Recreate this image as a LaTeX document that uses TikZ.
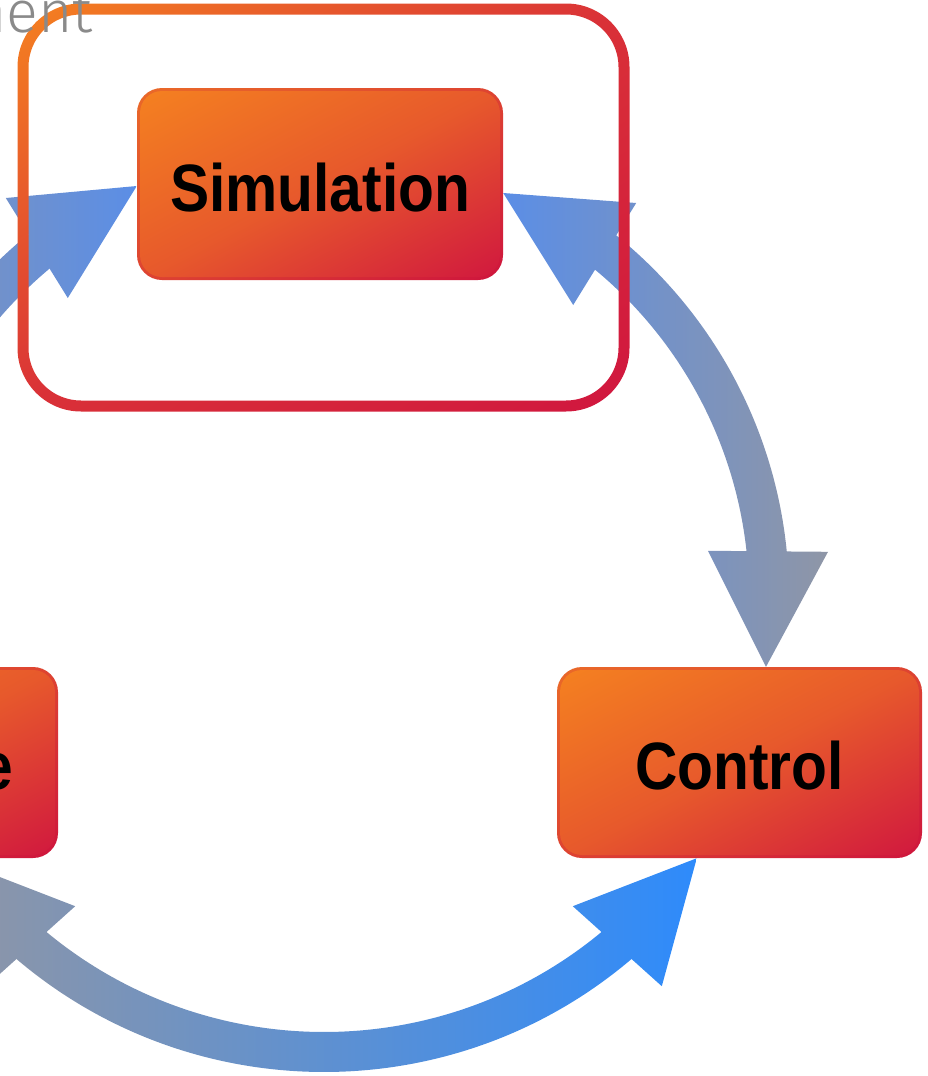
\documentclass[tikz,border=0pt]{standalone}
\usepackage{fontspec}
\setmainfont{Liberation Sans}
\newfontfamily\stagefont[FakeStretch=0.876]{Liberation Sans}
\newfontfamily\notefont{Fira Sans Light}
\usetikzlibrary{calc}

\definecolor{flameA}{HTML}{F58220}
\definecolor{flameB}{HTML}{D0163F}
\definecolor{rimA}{HTML}{EA6A28}
\definecolor{rimB}{HTML}{CE143D}
\definecolor{steel}{HTML}{8F96A6}
\definecolor{sky}{HTML}{5B8EE6}
\definecolor{azure}{HTML}{2E8BFB}
\definecolor{notegray}{HTML}{8A8A8A}

% diagonal gradient: an axis shading on a rectangle centred at the
% coordinate named #1, half-size #3 x #4, turned by #2 degrees about it
\newcommand\diagshade[5]{%
  \begin{scope}[transform canvas={rotate around={#2:(#1)}}]
    \shade[#5] ([shift={(-#3,-#4)}]#1) rectangle ([shift={(#3,#4)}]#1);
  \end{scope}}

\begin{document}
\begin{tikzpicture}[x=1pt,y=1pt,
  stage/.style={rectangle, rounded corners=25pt,
    minimum width=366pt, minimum height=192pt, inner sep=0pt,
    font=\stagefont\bfseries\fontsize{67}{72}\selectfont,
    text height=54pt, text depth=0pt,
    path picture={%
      \diagshade{path picture bounding box.center}{27.7}{215pt}{172pt}
        {top color=rimA, bottom color=rimB, middle color=rimB!45!rimA}
      \begin{scope}
        \clip[rounded corners=22pt]
          ([shift={(3pt,3pt)}]path picture bounding box.south west) rectangle
          ([shift={(-3pt,-3pt)}]path picture bounding box.north east);
        \diagshade{path picture bounding box.center}{27.7}{215pt}{172pt}
          {top color=flameA, bottom color=flameB, middle color=flameB!38!flameA}
      \end{scope}}},
  stagetext/.style={font=\stagefont\bfseries\fontsize{67}{72}\selectfont, inner sep=0pt},
  note/.style={font=\notefont\fontsize{59}{60}\selectfont, text=notegray, inner sep=0pt}
]
\useasboundingbox (0,0) rectangle (927,-1076);
\clip (0,0) rectangle (927,-1076);

% centre of the ring of arrows
\coordinate (C) at (324,-597);

% stages
\node[stage] (sim) at (320,-184) {Simulation};
\node[stage, minimum width=365pt, minimum height=191pt] (ctrl) at (739.5,-762.5) {Control};
\node[stage, minimum width=365pt, minimum height=191pt] (hw) at (-124.5,-762.5) {};
\node[stagetext, anchor=base east] (hwtext) at (13,-789) {e};

% ---- arrow into Simulation from the left
\coordinate (lt) at ($(sim.west)+(0,-2)$);
\begin{scope}
  \clip (lt) -- ($(lt)+(-131,-12)$) -- ($(lt)+(-69,-112)$) -- cycle;
  \shade[left color=steel, right color=sky] (-190,-140) rectangle (137,-420);
\end{scope}
\begin{scope}
  \clip ($(C)+(127.5:468pt)$) arc[start angle=127.5, end angle=150, radius=468pt]
     -- ($(C)+(150:428pt)$) arc[start angle=150, end angle=127.5, radius=428pt] -- cycle;
  \shade[left color=steel, right color=sky] (-190,-140) rectangle (137,-420);
\end{scope}

% ---- Simulation <-> Control
\coordinate (rt) at ($(sim.east)+(0,-9)$);
\coordinate (rb) at ($(ctrl.north)+(26.5,0)$);
\begin{scope}
  \clip (rt) -- ($(rt)+(133,-10)$) -- ($(rt)+(70,-112)$) -- cycle;
  \shade[left color=sky, right color=steel] (503,-140) rectangle (830,-680);
\end{scope}
\begin{scope}
  \clip (rb) -- ($(rb)+(-58,116)$) -- ($(rb)+(62,115)$) -- cycle;
  \shade[left color=sky, right color=steel] (503,-140) rectangle (830,-680);
\end{scope}
\begin{scope}
  \clip ($(C)+(52.5:465pt)$) arc[start angle=52.5, end angle=4, radius=465pt]
     -- ($(C)+(4:425pt)$) arc[start angle=4, end angle=52.5, radius=425pt] -- cycle;
  \shade[left color=sky, right color=steel] (503,-140) rectangle (830,-680);
\end{scope}

% ---- left stage <-> Control, along the bottom
\coordinate (br) at ($(ctrl.south west)+(140,0)$);
\coordinate (bl) at ($(hw.south east)+(-107,0)$);
\begin{scope}
  \clip (br) -- ($(br)+(-124,-48)$) -- ($(br)+(-35,-128)$) -- cycle;
  \shade[left color=steel, right color=azure] (-49,-840) rectangle (697,-1080);
\end{scope}
\begin{scope}
  \clip (bl) -- ($(bl)+(124,-48)$) -- ($(bl)+(35,-128)$) -- cycle;
  \shade[left color=steel, right color=azure] (-49,-840) rectangle (697,-1080);
\end{scope}
\begin{scope}
  \clip ($(C)+(-132:475pt)$) arc[start angle=-132, end angle=-48, radius=475pt]
     -- ($(C)+(-48:435pt)$) arc[start angle=-48, end angle=-132, radius=435pt] -- cycle;
  \shade[left color=steel, right color=azure] (-49,-840) rectangle (697,-1080);
\end{scope}

% ---- group frame round Simulation: outer outline clockwise, inner one
% counter-clockwise, so the clip is the ring between them
\coordinate (fc) at (323.5,-207.5);
\begin{scope}[even odd rule]
  \clip (81,-3.5) -- (566,-3.5) arc (90:0:63.5pt) -- (629.5,-348) arc (0:-90:63.5pt)
     -- (81,-411.5) arc (-90:-180:63.5pt) -- (17.5,-67) arc (180:90:63.5pt) -- cycle
     (81,-14.5) arc (90:180:52.5pt) -- (28.5,-348) arc (180:270:52.5pt)
     -- (566,-400.5) arc (270:360:52.5pt) -- (618.5,-67) arc (0:90:52.5pt) -- cycle;
  \diagshade{fc}{33.7}{372pt}{342pt}
    {top color=flameA, bottom color=flameB, middle color=flameB!75!flameA}
\end{scope}
\node[note, anchor=base east] (envnote) at (93,-32) {ment};
\end{tikzpicture}
\end{document}
